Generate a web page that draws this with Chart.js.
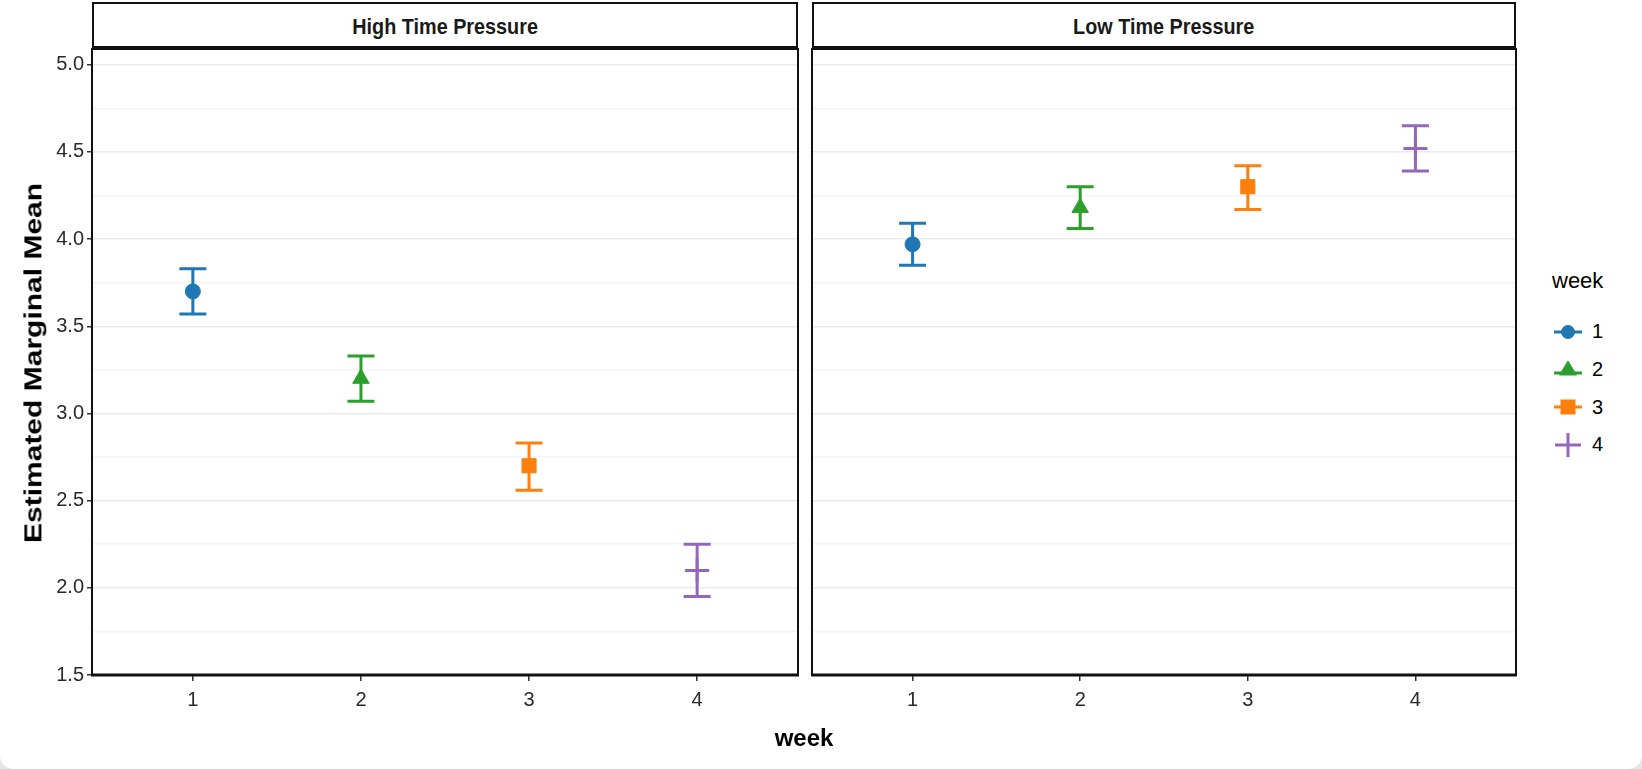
<!DOCTYPE html>
<html>
<head>
<meta charset="utf-8">
<script src="https://cdn.jsdelivr.net/npm/chart.js@4.4.0/dist/chart.umd.min.js"></script>
<style>
  html, body { margin: 0; padding: 0; background: #e6e6e6; }
  #frame { position: relative; width: 1642px; height: 769px; background: #fff; border-radius: 0 0 14px 14px; overflow: hidden; }
  .wrap { position: absolute; top: 0; height: 769px; }
  .strip { position: absolute; top: 2px; height: 47px; box-sizing: border-box; border: 2px solid #111; border-bottom-width: 3px;
           font: bold 22px "Liberation Sans", Arial, sans-serif; color: #1a1a1a; padding-top: 4px;
           display: flex; align-items: center; justify-content: center; }
  .strip span { display: inline-block; transform: scaleX(0.9); }
  #ytitle { position: absolute; left: 33px; top: 363px; transform: translate(-50%, -50%) rotate(-90deg) scaleY(0.8);
            font: bold 30px "Liberation Sans", Arial, sans-serif; white-space: nowrap; color: #000; }
  #xtitle { position: absolute; left: 804px; top: 738px; transform: translate(-50%, -50%);
            font: bold 24px "Liberation Sans", Arial, sans-serif; color: #000; }
  #legend { position: absolute; left: 1552px; top: 268px; font-family: "Liberation Sans", Arial, sans-serif; color: #000; }
  #legend .title { font-size: 22px; margin-bottom: 19px; }
  #legend .item { display: flex; align-items: center; height: 37.7px; font-size: 20px; }
  #legend svg { margin-right: 8px; }
</style>
</head>
<body>
<div id="frame">
  <div class="strip" style="left:92px;width:706px;"><span>High Time Pressure</span></div>
  <div class="strip" style="left:812px;width:704px;"><span>Low Time Pressure</span></div>
  <div class="wrap" style="left:0;width:805px;"><canvas id="highChart"></canvas></div>
  <div class="wrap" style="left:805px;width:720px;"><canvas id="lowChart"></canvas></div>
  <div id="ytitle">Estimated Marginal Mean</div>
  <div id="xtitle">week</div>
  <div id="legend"><div class="title">week</div></div>
</div>
<script>
// data
const weeks = [1, 2, 3, 4];
const highMean = [3.70, 3.20, 2.70, 2.10];
const highLower = [3.57, 3.07, 2.56, 1.95];
const highUpper = [3.83, 3.33, 2.83, 2.25];
const lowMean = [3.97, 4.18, 4.30, 4.52];
const lowLower = [3.85, 4.06, 4.17, 4.39];
const lowUpper = [4.09, 4.30, 4.42, 4.65];
const yTicks = [1.5, 2.0, 2.5, 3.0, 3.5, 4.0, 4.5, 5.0];
const yMinor = [1.75, 2.25, 2.75, 3.25, 3.75, 4.25, 4.75];

const colors = ['#1f77b4', '#2ca02c', '#ff7f0e', '#9467bd'];
const shapes = ['circle', 'triangle', 'rect', 'cross'];
const radii = [7.5, 9.5, 10, 12];

// error bars + panel border
const errorBars = {
  id: 'errorBars',
  beforeDatasetsDraw(chart) {
    const ctx = chart.ctx, x = chart.scales.x, y = chart.scales.y;
    chart.data.datasets.forEach((ds) => {
      const px = x.getPixelForValue(ds.data[0].x);
      const top = y.getPixelForValue(ds.upper), bot = y.getPixelForValue(ds.lower);
      ctx.save();
      ctx.strokeStyle = ds.borderColor;
      ctx.lineWidth = 3;
      ctx.beginPath();
      ctx.moveTo(px, top); ctx.lineTo(px, bot);
      ctx.moveTo(px - 13.5, top); ctx.lineTo(px + 13.5, top);
      ctx.moveTo(px - 13.5, bot); ctx.lineTo(px + 13.5, bot);
      ctx.stroke();
      ctx.restore();
    });
  },
  afterDraw(chart) {
    const a = chart.chartArea, ctx = chart.ctx;
    ctx.save();
    ctx.strokeStyle = '#111';
    ctx.lineWidth = 2;
    ctx.strokeRect(a.left, a.top, a.right - a.left, a.bottom - a.top);
    ctx.lineWidth = 3;
    ctx.beginPath(); ctx.moveTo(a.left - 1, a.bottom); ctx.lineTo(a.right + 1, a.bottom); ctx.stroke();
    ctx.restore();
  }
};

function isMajor(v) { return yTicks.some(t => Math.abs(t - v) < 1e-6); }

function makeChart(id, mean, lower, upper, showY, padLeft, padRight) {
  const datasets = weeks.map((w, i) => ({
    label: String(w),
    data: [{ x: w, y: mean[i] }],
    lower: lower[i],
    upper: upper[i],
    pointStyle: shapes[i],
    radius: radii[i],
    borderColor: colors[i],
    backgroundColor: colors[i],
    borderWidth: i === 3 ? 3 : 1,
    showLine: false
  }));
  return new Chart(document.getElementById(id), {
    type: 'scatter',
    data: { datasets: datasets },
    options: {
      responsive: true,
      maintainAspectRatio: false,
      animation: false,
      layout: { autoPadding: false, padding: { top: 49, right: padRight, bottom: 34, left: padLeft } },
      plugins: { legend: { display: false }, tooltip: { enabled: false } },
      scales: {
        x: {
          type: 'linear', min: 0.4, max: 4.6,
          afterBuildTicks: (axis) => { axis.ticks = weeks.map(w => ({ value: w })); },
          afterFit: (axis) => { axis.height = 60; },
          border: { display: false },
          grid: { drawOnChartArea: false, tickLength: 6, tickColor: '#333', lineWidth: 1.5 },
          ticks: { padding: 7, color: '#2a2a2a', font: { family: 'Liberation Sans', size: 20 }, callback: v => String(v) }
        },
        y: {
          type: 'linear', min: 1.5, max: 5.09,
          afterBuildTicks: (axis) => {
            axis.ticks = yTicks.concat(yMinor).sort((a, b) => a - b).map(v => ({ value: v }));
          },
          afterFit: (axis) => { axis.width = showY ? 92 : 0; },
          border: { display: false },
          grid: {
            color: (c) => isMajor(c.tick.value) ? '#ebebeb' : '#f5f5f5',
            tickColor: (c) => (showY && isMajor(c.tick.value)) ? '#333' : 'rgba(0,0,0,0)',
            tickLength: showY ? 5 : 0,
            drawTicks: showY,
            lineWidth: 1.5
          },
          ticks: {
            display: showY,
            padding: 3,
            color: '#2a2a2a',
            font: { family: 'Liberation Sans', size: 20 },
            callback: (v) => isMajor(v) ? v.toFixed(1) : ''
          }
        }
      }
    },
    plugins: [errorBars]
  });
}

makeChart('highChart', highMean, highLower, highUpper, true, 0, 7);
makeChart('lowChart', lowMean, lowLower, lowUpper, false, 7, 9);

// legend
const legend = document.getElementById('legend');
const symbolSvg = [
  '<line x1="2" y1="12" x2="30" y2="12" stroke-width="3"/><circle cx="16" cy="12" r="6.5"/>',
  '<line x1="2" y1="15" x2="30" y2="15" stroke-width="3"/><polygon points="16,3 24.5,17 7.5,17"/>',
  '<line x1="2" y1="12" x2="30" y2="12" stroke-width="3"/><rect x="9" y="5" width="14" height="14"/>',
  '<line x1="3" y1="12" x2="29" y2="12" stroke-width="3"/><line x1="16" y1="0" x2="16" y2="24" stroke-width="3"/>'
];
weeks.forEach((w, i) => {
  const item = document.createElement('div');
  item.className = 'item';
  item.innerHTML = '<svg width="32" height="24" stroke="' + colors[i] + '" fill="' + colors[i] + '">' + symbolSvg[i] + '</svg><span>' + w + '</span>';
  legend.appendChild(item);
});
</script>
</body>
</html>
